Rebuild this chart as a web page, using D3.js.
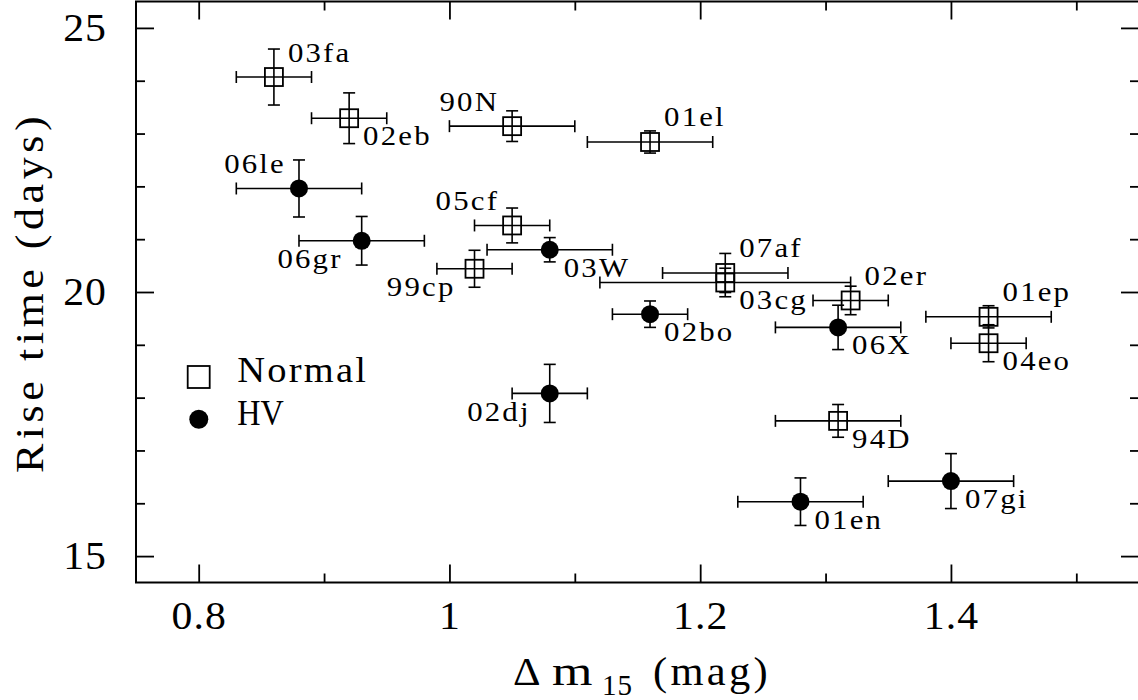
<!DOCTYPE html>
<html>
<head>
<meta charset="utf-8">
<script src="https://cdn.jsdelivr.net/npm/d3@7"></script>
<style>
  html, body { margin: 0; padding: 0; background: #fff; }
  svg { display: block; }
</style>
</head>
<body>
<svg id="chart"></svg>
<script>
// Supernova sample: decline rate vs. rise time
const names    = ["03fa","02eb","90N","01el","05cf","99cp","07af","03cg","02er","01ep","04eo","94D",
                  "06le","06gr","03W","02bo","06X","02dj","01en","07gi"];
const groups   = ["Normal","Normal","Normal","Normal","Normal","Normal","Normal","Normal","Normal","Normal","Normal","Normal",
                  "HV","HV","HV","HV","HV","HV","HV","HV"];
const dm15     = [0.86, 0.92, 1.05, 1.16, 1.05, 1.02, 1.22, 1.22, 1.32, 1.43, 1.43, 1.31,
                  0.88, 0.93, 1.08, 1.16, 1.31, 1.08, 1.28, 1.40];
const dm15Err  = [0.03, 0.03, 0.05, 0.05, 0.03, 0.03, 0.05, 0.10, 0.03, 0.05, 0.03, 0.05,
                  0.05, 0.05, 0.05, 0.03, 0.05, 0.03, 0.05, 0.05];
const riseTime = [24.07, 23.29, 23.14, 22.84, 21.26, 20.44, 20.36, 20.18, 19.84, 19.53, 19.03, 17.56,
                  21.96, 20.97, 20.80, 19.58, 19.33, 18.08, 16.03, 16.42];
const riseErr  = [0.53, 0.48, 0.29, 0.21, 0.33, 0.35, 0.37, 0.27, 0.27, 0.21, 0.35, 0.31,
                  0.54, 0.46, 0.23, 0.25, 0.42, 0.55, 0.45, 0.52];
// which corner of the marker each name is written at
const labelSide = ["NE","SE","NW","NE","NW","SW","NE","SE","NE","NE","SE","SE",
                   "NW","SW","SE","SE","SE","SW","SE","SE"];

const xMajor = [0.8, 1.0, 1.2, 1.4];
const xMinor = [0.9, 1.1, 1.3, 1.5];
const xTickLabels = ["0.8", "1", "1.2", "1.4"];
const yMajor = [15, 20, 25];
const yMinor = [16, 17, 18, 19, 21, 22, 23, 24];
const yTickLabels = ["15", "20", "25"];
const legendLabels = ["Normal", "HV"];

const W = 1138, H = 700;
const FONT = "'Liberation Serif', 'Times New Roman', serif";

const svg = d3.select("#chart").attr("width", W).attr("height", H)
  .attr("font-family", FONT);
svg.append("rect").attr("width", W).attr("height", H).attr("fill", "#fff");

const x = d3.scaleLinear().domain([0.75, 1.55]).range([136, 1139]);
const y = d3.scaleLinear().domain([14.5, 25.5]).range([582.5, 1.5]);
const [x0, x1] = x.range();
const [y0, y1] = y.range();

// a wide, light face: add letter spacing, then widen the glyphs a little
function widen(sel, spacing, k) {
  sel.attr("letter-spacing", spacing).each(function () {
    const w = this.getComputedTextLength();
    this.setAttribute("textLength", (w * k).toFixed(2));
    this.setAttribute("lengthAdjust", "spacingAndGlyphs");
  });
}

// ---- axes: ticks point inward on all four sides ----
function tickAxis(axisGen, tx, ty, values, size, labels, pad) {
  const gen = axisGen.tickValues(values).tickSize(-size).tickSizeOuter(0);
  if (labels) gen.tickFormat((d, i) => labels[i]).tickPadding(pad);
  else gen.tickFormat("");
  const g = svg.append("g").attr("transform", `translate(${tx},${ty})`).call(gen);
  g.attr("font-family", FONT);
  g.select(".domain").remove();
  g.selectAll(".tick line").attr("stroke", "#000").attr("stroke-width", 1.8);
  g.selectAll(".tick text").attr("fill", "#000").attr("font-size", 39);
  return g;
}
const gxb = tickAxis(d3.axisBottom(x), 0, y0, xMajor, 18, xTickLabels, 19);
tickAxis(d3.axisBottom(x), 0, y0, xMinor, 9);
tickAxis(d3.axisTop(x), 0, y1, xMajor, 18);
tickAxis(d3.axisTop(x), 0, y1, xMinor, 9);
const gyl = tickAxis(d3.axisLeft(y), x0, 0, yMajor, 18, yTickLabels, 29);
tickAxis(d3.axisLeft(y), x0, 0, yMinor, 9);
tickAxis(d3.axisRight(y), x1, 0, yMajor, 18);
tickAxis(d3.axisRight(y), x1, 0, yMinor, 9);
widen(gxb.selectAll(".tick text"), 1, 1.07);
widen(gyl.selectAll(".tick text"), 1, 1.07);

// frame
svg.append("rect")
  .attr("x", x0).attr("y", y1).attr("width", x1 - x0).attr("height", y0 - y1)
  .attr("fill", "none").attr("stroke", "#000").attr("stroke-width", 2);

// ---- data points with error bars ----
const pts = names.map((n, i) => ({
  name: n, group: groups[i], x: dm15[i], ex: dm15Err[i],
  y: riseTime[i], ey: riseErr[i], side: labelSide[i]
}));

const CAP = 6;
const pg = svg.append("g").attr("stroke", "#000").attr("stroke-width", 1.6);
const pt = pg.selectAll("g.pt").data(pts).join("g").attr("class", "pt");

pt.append("line")
  .attr("x1", d => x(d.x - d.ex)).attr("x2", d => x(d.x + d.ex))
  .attr("y1", d => y(d.y)).attr("y2", d => y(d.y));
pt.append("line")
  .attr("x1", d => x(d.x - d.ex)).attr("x2", d => x(d.x - d.ex))
  .attr("y1", d => y(d.y) - CAP).attr("y2", d => y(d.y) + CAP);
pt.append("line")
  .attr("x1", d => x(d.x + d.ex)).attr("x2", d => x(d.x + d.ex))
  .attr("y1", d => y(d.y) - CAP).attr("y2", d => y(d.y) + CAP);
pt.append("line")
  .attr("x1", d => x(d.x)).attr("x2", d => x(d.x))
  .attr("y1", d => y(d.y - d.ey)).attr("y2", d => y(d.y + d.ey));
pt.append("line")
  .attr("x1", d => x(d.x) - CAP).attr("x2", d => x(d.x) + CAP)
  .attr("y1", d => y(d.y + d.ey)).attr("y2", d => y(d.y + d.ey));
pt.append("line")
  .attr("x1", d => x(d.x) - CAP).attr("x2", d => x(d.x) + CAP)
  .attr("y1", d => y(d.y - d.ey)).attr("y2", d => y(d.y - d.ey));

const SQ = 18, R = 9;
pt.filter(d => d.group === "Normal").append("rect")
  .attr("x", d => x(d.x) - SQ / 2).attr("y", d => y(d.y) - SQ / 2)
  .attr("width", SQ).attr("height", SQ)
  .attr("fill", "none").attr("stroke-width", 1.8);
pt.filter(d => d.group === "HV").append("circle")
  .attr("cx", d => x(d.x)).attr("cy", d => y(d.y)).attr("r", R)
  .attr("fill", "#000").attr("stroke", "none");

// ---- names ----
const OFF = {
  NE: { dx: 14,  dy: -15.5, anchor: "start" },
  SE: { dx: 14,  dy: 27,    anchor: "start" },
  NW: { dx: -13, dy: -15.5, anchor: "end" },
  SW: { dx: -19, dy: 27.5,  anchor: "end" }
};
const labels = svg.append("g").selectAll("text").data(pts).join("text")
  .attr("x", d => x(d.x) + OFF[d.side].dx)
  .attr("y", d => y(d.y) + OFF[d.side].dy)
  .attr("text-anchor", d => OFF[d.side].anchor)
  .attr("font-size", 28)
  .attr("fill", "#000")
  .text(d => d.name);
widen(labels, 2, 1.1);

// ---- legend ----
const lg = svg.append("g");
lg.append("rect").attr("x", 187.7).attr("y", 366).attr("width", 22).attr("height", 22)
  .attr("fill", "none").attr("stroke", "#000").attr("stroke-width", 1.8);
lg.append("circle").attr("cx", 198.8).attr("cy", 419.3).attr("r", 9.5).attr("fill", "#000");
const lt = lg.selectAll("text").data(legendLabels).join("text")
  .attr("x", 237.3).attr("y", (d, i) => 382 + i * 43)
  .attr("font-size", 35).attr("fill", "#000")
  .text(d => d);
widen(lt.filter((d, i) => i === 0), 2, 1.1);
widen(lt.filter((d, i) => i === 1), 0, 0.92);

// ---- axis titles ----
svg.append("text")
  .attr("transform", "translate(42.5,292.5) rotate(-90)")
  .attr("text-anchor", "middle")
  .attr("font-size", 39).attr("fill", "#000")
  .text("Rise time (days)")
  .call(widen, 4, 1.13);

const xt = svg.append("text").attr("y", 685).attr("font-size", 39).attr("fill", "#000");
xt.append("tspan").attr("x", 513).text("Δ").call(widen, 0, 1.1);
xt.append("tspan").attr("x", 552).attr("font-size", 40).text("m").call(widen, 0, 1.3);
xt.append("tspan").attr("x", 602).attr("dy", 10).attr("font-size", 29).text("15").call(widen, 1, 1.0);
xt.append("tspan").attr("x", 653).attr("dy", -10).text("(mag)").call(widen, 3, 1.09);
</script>
</body>
</html>
